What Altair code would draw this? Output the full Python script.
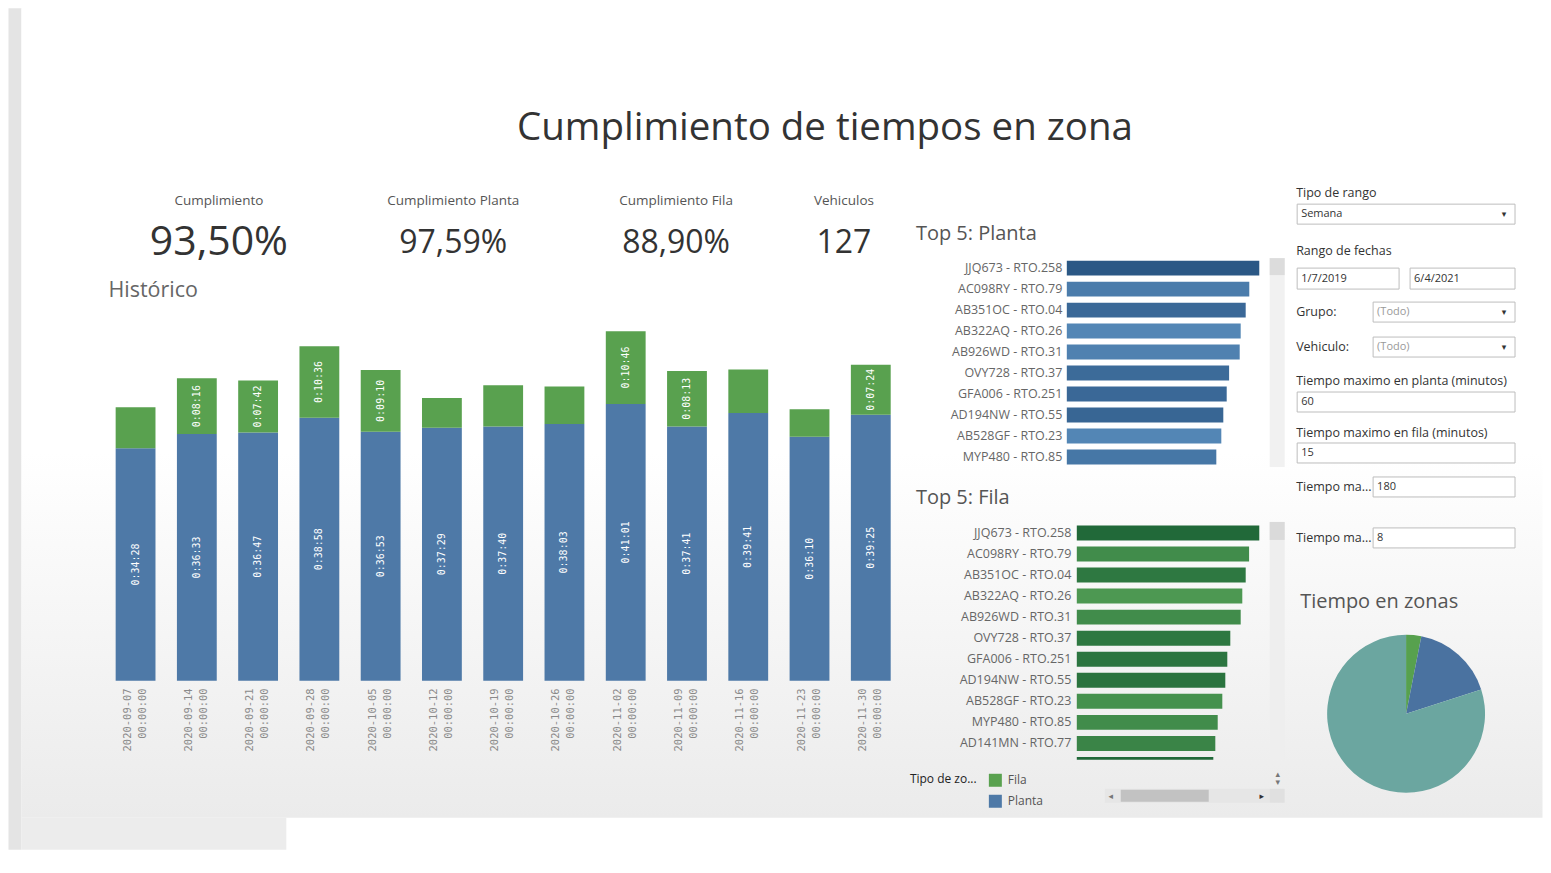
import altair as alt
import pandas as pd

FONT = "Open Sans"
MONO = "DejaVu Sans Mono"
BLUE = "#4e79a7"
GREEN = "#59a14f"

# ---------------- data ----------------
semanas = ["2020-09-07", "2020-09-14", "2020-09-21", "2020-09-28", "2020-10-05",
           "2020-10-12", "2020-10-19", "2020-10-26", "2020-11-02", "2020-11-09",
           "2020-11-16", "2020-11-23", "2020-11-30"]
hora = "00:00:00"
planta_txt = ["0:34:28", "0:36:33", "0:36:47", "0:38:58", "0:36:53", "0:37:29", "0:37:40",
              "0:38:03", "0:41:01", "0:37:41", "0:39:41", "0:36:10", "0:39:25"]
fila_txt = ["0:06:04", "0:08:16", "0:07:42", "0:10:36", "0:09:10", "0:04:24", "0:06:07",
            "0:05:32", "0:10:46", "0:08:13", "0:06:25", "0:04:03", "0:07:24"]
fila_visible = [False, True, True, True, True, False, False, False, True, True, False, False, True]

kpi_titulos = ["Cumplimiento", "Cumplimiento Planta", "Cumplimiento Fila", "Vehiculos"]
kpi_valores = ["93,50%", "97,59%", "88,90%", "127"]

top_planta_veh = ["JJQ673 - RTO.258", "AC098RY - RTO.79", "AB351OC - RTO.04", "AB322AQ - RTO.26",
                  "AB926WD - RTO.31", "OVY728 - RTO.37", "GFA006 - RTO.251", "AD194NW - RTO.55",
                  "AB528GF - RTO.23", "MYP480 - RTO.85"]
top_planta_val = [96.3, 91.3, 89.5, 87.0, 86.5, 81.2, 80.0, 78.3, 77.3, 74.8]
top_planta_tono = [1.0, 0.25, 0.65, 0.05, 0.15, 0.6, 0.65, 0.7, 0.05, 0.35]

top_fila_veh = ["JJQ673 - RTO.258", "AC098RY - RTO.79", "AB351OC - RTO.04", "AB322AQ - RTO.26",
                "AB926WD - RTO.31", "OVY728 - RTO.37", "GFA006 - RTO.251", "AD194NW - RTO.55",
                "AB528GF - RTO.23", "MYP480 - RTO.85", "AD141MN - RTO.77", "AB108SX - RTO.33"]
top_fila_val = [91.3, 86.2, 84.5, 82.8, 82.0, 76.8, 75.3, 74.3, 72.8, 70.5, 69.3, 68.3]
top_fila_tono = [1.0, 0.3, 0.7, 0.05, 0.3, 0.7, 0.75, 0.8, 0.2, 0.3, 0.45, 1.0]

zonas = ["Fila", "Planta", "Otros"]
zonas_val = [3.1, 16.9, 80.0]

filtro_titulos = ["Tipo de rango", "Rango de fechas", "Grupo:", "Vehiculo:",
                  "Tiempo maximo en planta (minutos)", "Tiempo maximo en fila (minutos)",
                  "Tiempo ma...", "Tiempo ma..."]
filtro_valores = ["Semana", "1/7/2019", "6/4/2021", "(Todo)", "(Todo)", "60", "15", "180", "8"]


def to_s(t):
    h, m, s = (int(p) for p in t.split(":"))
    return h * 3600 + m * 60 + s


one = pd.DataFrame({"k": [0]})


def txt(s, x, y, size=11, color="#333", align="left", font=FONT, weight="normal", baseline="middle"):
    return alt.Chart(one).mark_text(align=align, baseline=baseline, fontSize=size, color=color,
                                    font=font, fontWeight=weight).encode(
        x=alt.value(x), y=alt.value(y), text=alt.value(s))


def rect(x1, y1, x2, y2, fill, stroke=""):
    mk = dict(fill=fill)
    if stroke:
        mk.update(stroke=stroke, strokeWidth=1)
    return alt.Chart(one).mark_rect(**mk).encode(
        x=alt.value(x1), x2=alt.value(x2), y=alt.value(y1), y2=alt.value(y2))


TOP = 320  # common top of the three columns' plot areas

# ---------------- left column: KPIs + historical chart ----------------
LX = 104.5


def P(x, y):
    return x - LX, y - TOP


bg_grad = alt.LinearGradient(gradient="linear", x1=0, x2=0, y1=0, y2=1,
                             stops=[alt.GradientStop(color="#ffffff", offset=0),
                                    alt.GradientStop(color="#ffffff", offset=0.55),
                                    alt.GradientStop(color="#ebebeb", offset=1)])
kpi_cx = [218.5, 453, 676, 844]
kpi_layers = [rect(*P(8, 8), *P(21, 850), "#e4e4e4"),
              rect(*P(21, 8), *P(1543, 818), bg_grad),
              rect(*P(21, 818), *P(286, 850), "#ececec"),
              txt("Cumplimiento de tiempos en zona", *P(825, 128), size=38.5, color="#333", align="center")]
for i in range(4):
    kpi_layers.append(txt(kpi_titulos[i], *P(kpi_cx[i], 201), size=13.5, color="#555", align="center"))
    kpi_layers.append(txt(kpi_valores[i], *P(kpi_cx[i], 243), size=41 if i == 0 else 32,
                          color="#333", align="center"))
kpi_layers.append(txt("Histórico", *P(108, 291), size=21.5, color="#666"))

rows = []
for i, s in enumerate(semanas):
    rows.append({"semana": f"{s} {hora}", "tipo": "Planta", "seg": to_s(planta_txt[i]), "ord": 0})
    rows.append({"semana": f"{s} {hora}", "tipo": "Fila", "seg": to_s(fila_txt[i]), "ord": 1})
hist_long = pd.DataFrame(rows)
hist_wide = pd.DataFrame({
    "semana": [f"{s} {hora}" for s in semanas],
    "planta": [to_s(t) for t in planta_txt],
    "fila": [to_s(t) for t in fila_txt],
    "planta_lbl": planta_txt,
    "fila_lbl": [t if v else "" for t, v in zip(fila_txt, fila_visible)],
})

xenc = alt.X("semana:N", sort=None, title=None,
             scale=alt.Scale(paddingInner=0.35, paddingOuter=0.175),
             axis=alt.Axis(labelAngle=-90, labelExpr="split(datum.value, ' ')", labelFont=MONO,
                           labelFontSize=10.5, labelColor="#8a8a8a", labelLineHeight=15,
                           labelPadding=7, labelOffset=-8, ticks=False, domain=False,
                           labelOverlap=False, zindex=2))
yscale = alt.Scale(domain=[0, 3206], nice=False, zero=True)

hist_bars = alt.Chart(hist_long).mark_bar().encode(
    x=xenc,
    y=alt.Y("seg:Q", stack="zero", scale=yscale, axis=None),
    color=alt.Color("tipo:N", scale=alt.Scale(domain=["Fila", "Planta"], range=[GREEN, BLUE]),
                    legend=alt.Legend(title="Tipo de zo...", orient="none", legendX=805.5,
                                      legendY=454, titleOrient="left", titleAnchor="start",
                                      titleBaseline="top", direction="vertical",
                                      titleFont=FONT, titleFontSize=12, titleFontWeight="normal",
                                      titleColor="#222", titlePadding=12, labelFont=FONT,
                                      labelFontSize=12, labelColor="#555", symbolType="square",
                                      symbolSize=169, symbolStrokeWidth=0, rowPadding=8,
                                      labelOffset=6, zindex=2)),
    order=alt.Order("ord:Q"))
hist_txt_p = alt.Chart(hist_wide).transform_calculate(mid="datum.planta / 2").mark_text(
    angle=270, color="white", font=MONO, fontSize=10, baseline="middle", align="center").encode(
    x=xenc, y=alt.Y("mid:Q", scale=yscale, axis=None), text="planta_lbl:N")
hist_txt_f = alt.Chart(hist_wide).transform_calculate(mid="datum.planta + datum.fila / 2").mark_text(
    angle=270, color="white", font=MONO, fontSize=10, baseline="middle", align="center").encode(
    x=xenc, y=alt.Y("mid:Q", scale=yscale, axis=None), text="fila_lbl:N")
left_col = alt.layer(*kpi_layers, hist_bars, hist_txt_p, hist_txt_f).properties(width=797, height=361)

# ---------------- middle column: top 5 (one view, two independent scales) ----------------
MX = 912.5


def M(x, y):
    return x - MX, y - TOP


BAR_X0 = 1067 - MX
planta_df = pd.DataFrame({"veh": top_planta_veh, "val": top_planta_val, "tono": top_planta_tono})
planta_bars = alt.Chart(planta_df).mark_bar().encode(
    y=alt.Y("veh:N", sort=None, title=None,
            scale=alt.Scale(range=[257.5 - TOP, 467.5 - TOP], paddingInner=0.29, paddingOuter=0.145),
            axis=alt.Axis(orient="left", offset=-BAR_X0, ticks=False, domain=False, labelPadding=5,
                          labelFont=FONT, labelFontSize=12.5, labelColor="#666", labelLimit=200,
                          zindex=2)),
    x=alt.X("val:Q", scale=alt.Scale(domain=[0, 100], range=[BAR_X0, BAR_X0 + 200], nice=False), axis=None),
    color=alt.Color("tono:Q", scale=alt.Scale(domain=[0, 1], range=["#5588b8", "#2b5885"]), legend=None))

fila_df = pd.DataFrame({"veh": top_fila_veh, "val": top_fila_val, "tono": top_fila_tono})
fila_bars = alt.Chart(fila_df).mark_bar(clip=True).encode(
    y=alt.Y("veh:N", sort=None, title=None,
            scale=alt.Scale(range=[522.5 - TOP, 522.5 - TOP + 252.7], paddingInner=0.29, paddingOuter=0.145),
            axis=alt.Axis(orient="left", offset=-BAR_X0, ticks=False, domain=False, labelPadding=-4,
                          labelFont=FONT, labelFontSize=12.5, labelColor="#666", labelLimit=200,
                          labelExpr=f"datum.value == '{top_fila_veh[-1]}' ? '' : datum.label",
                          zindex=2)),
    x=alt.X("val:Q", scale=alt.Scale(domain=[0, 100], range=[BAR_X0 + 10, BAR_X0 + 210], nice=False),
            axis=None),
    color=alt.Color("tono:Q", scale=alt.Scale(domain=[0, 1], range=["#4f9b53", "#216939"]), legend=None))

mid_col = alt.layer(
    rect(*M(1270, 258), *M(1285, 467), "#f1f1f1"),
    rect(*M(1270, 258), *M(1285, 275), "#dcdcdc"),
    rect(*M(1270, 522), *M(1285, 760), "#eeeeee"),
    rect(*M(1270, 522), *M(1285, 540), "#dadada"),
    planta_bars,
    fila_bars,
    txt("Top 5: Planta", *M(916, 234), size=20, color="#555"),
    txt("Top 5: Fila", *M(916, 498), size=20, color="#555"),
    rect(*M(1105, 789), *M(1270, 803), "#e6e6e6"),
    rect(*M(1121, 790), *M(1209, 802), "#c2c2c2"),
    rect(*M(1270, 789), *M(1285, 803), "#e0e0e0"),
    txt("◂", *M(1111, 796), size=9, color="#777", align="center", font="DejaVu Sans"),
    txt("▸", *M(1262, 796), size=9, color="#333", align="center", font="DejaVu Sans"),
    txt("▴", *M(1278, 774), size=9, color="#777", align="center", font="DejaVu Sans"),
    txt("▾", *M(1278, 782), size=9, color="#777", align="center", font="DejaVu Sans"),
).resolve_scale(x="independent", y="independent", color="independent").properties(
    width=1285 - MX, height=760 - TOP)

# ---------------- right column: filters + pie ----------------
RX = 1296


def R(x, y):
    return x - RX, y - TOP


BOX = "#bdbdbd"
LBL = 12.5
VAL = 11
f_layers = [
    txt(filtro_titulos[0], *R(1296, 193), size=LBL),
    rect(*R(1297, 204), *R(1515, 224), "white", BOX),
    txt(filtro_valores[0], *R(1301, 214), size=VAL),
    txt("▾", *R(1504, 214), size=9, align="center", font="DejaVu Sans"),
    txt(filtro_titulos[1], *R(1296, 251), size=LBL),
    rect(*R(1297, 268), *R(1399, 289), "white", BOX),
    txt(filtro_valores[1], *R(1301, 278.5), size=VAL),
    rect(*R(1410, 268), *R(1515, 289), "white", BOX),
    txt(filtro_valores[2], *R(1414, 278.5), size=VAL),
    txt(filtro_titulos[2], *R(1296, 312), size=LBL),
    rect(*R(1373, 302), *R(1515, 322), "white", BOX),
    txt(filtro_valores[3], *R(1377, 312), size=VAL, color="#9a9a9a"),
    txt("▾", *R(1504, 312), size=9, align="center", font="DejaVu Sans"),
    txt(filtro_titulos[3], *R(1296, 347), size=LBL),
    rect(*R(1373, 337), *R(1515, 357), "white", BOX),
    txt(filtro_valores[4], *R(1377, 347), size=VAL, color="#9a9a9a"),
    txt("▾", *R(1504, 347), size=9, align="center", font="DejaVu Sans"),
    txt(filtro_titulos[4], *R(1296, 381), size=LBL),
    rect(*R(1297, 392), *R(1515, 412), "white", BOX),
    txt(filtro_valores[5], *R(1301, 402), size=VAL),
    txt(filtro_titulos[5], *R(1296, 433), size=LBL),
    rect(*R(1297, 443), *R(1515, 463), "white", BOX),
    txt(filtro_valores[6], *R(1301, 453), size=VAL),
    txt(filtro_titulos[6], *R(1296, 487), size=LBL),
    rect(*R(1373, 477), *R(1515, 497), "white", BOX),
    txt(filtro_valores[7], *R(1377, 487), size=VAL),
    txt(filtro_titulos[7], *R(1296, 538), size=LBL),
    rect(*R(1373, 528), *R(1515, 548), "white", BOX),
    txt(filtro_valores[8], *R(1377, 538), size=VAL),
]
filters = alt.layer(*f_layers).properties(width=220, height=245)

pie_df = pd.DataFrame({"zona": zonas, "val": zonas_val, "ord": list(range(len(zonas)))})
pie_arc = alt.Chart(pie_df).mark_arc(outerRadius=79).encode(
    theta=alt.Theta("val:Q", stack=True),
    color=alt.Color("zona:N", scale=alt.Scale(domain=zonas, range=["#57a14e", "#4a72a0", "#6ba6a0"]),
                    legend=None),
    order=alt.Order("ord:Q"))
pie = alt.layer(pie_arc, txt("Tiempo en zonas", 4, -23, size=20, color="#555")).properties(
    width=220, height=178)

right_col = alt.vconcat(filters, pie, spacing=60, bounds="flush").resolve_scale(color="independent")

chart = alt.hconcat(left_col, mid_col, right_col, spacing=11, bounds="flush").resolve_scale(
    color="independent").properties(padding=0, background="white").configure_view(
    strokeWidth=0).configure_axis(grid=False)

chart.save("out.html", embed_options={"renderer": "svg", "actions": False})
